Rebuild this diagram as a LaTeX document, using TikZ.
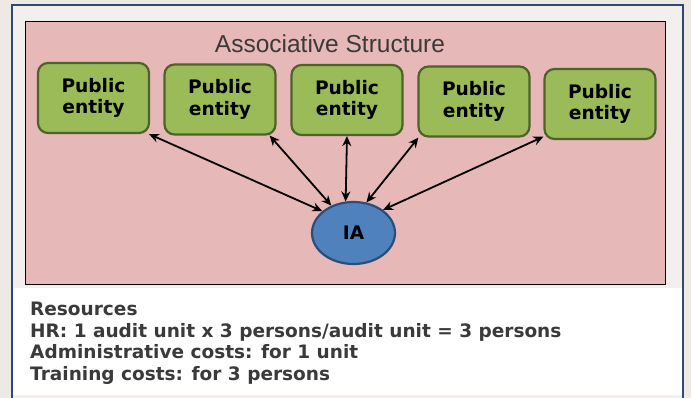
\documentclass[tikz,border=0pt]{standalone}
\usepackage{fontspec}
\setmainfont{DejaVu Sans}
\newfontfamily\titlefont{Liberation Sans}
\usetikzlibrary{arrows.meta,shapes.geometric}

\definecolor{pagegray}{HTML}{EDEAE6}
\definecolor{panelgray}{HTML}{F2EFEC}
\definecolor{frameblue}{HTML}{2E4A74}
\definecolor{structpink}{HTML}{E6B8B7}
\definecolor{entitygreen}{HTML}{9BBB59}
\definecolor{entityline}{HTML}{4F6228}
\definecolor{iablue}{HTML}{4F81BD}
\definecolor{iaborder}{HTML}{2C4D75}
\definecolor{textgray}{HTML}{3A3A3A}

\begin{document}
\begin{tikzpicture}[x=1pt,y=-1pt,>={Stealth[length=10pt,width=9pt]},
  entity/.style={rectangle,rounded corners=10pt,draw=entityline,fill=entitygreen,
    line width=2.2pt,minimum width=111pt,minimum height=70pt,align=center,
    font=\bfseries\fontsize{18.6}{21.5}\selectfont},
  ia node/.style={ellipse,draw=iaborder,fill=iablue,line width=2.2pt,
    minimum width=83pt,minimum height=62pt,font=\bfseries\fontsize{18.6}{21.5}\selectfont},
  link/.style={<->,line width=1.8pt}]

  % page and frame
  \useasboundingbox (0,0) rectangle (691,398);
  \fill[pagegray] (0,0) rectangle (691,398);
  \fill[panelgray] (12,5) rectangle (683,398);
  \fill[white] (13,288) rectangle (682,395);
  \draw[frameblue,line width=2pt] (12,398) -- (12,5) -- (683,5) -- (683,398);
  \draw[fill=structpink,line width=0.9pt] (25,21) rectangle (665,284);

  \node[anchor=base,text=textgray,font=\titlefont\fontsize{24.5}{24.5}\selectfont] (title)
    at (330,52.7) {Associative Structure};

  \node[entity] (pe1) at (93.5,98) {Public\\entity};
  \node[entity] (pe2) at (220,99.5) {Public\\entity};
  \node[entity] (pe3) at (347,100) {Public\\entity};
  \node[entity] (pe4) at (474,101.5) {Public\\entity};
  \node[entity] (pe5) at (600,104) {Public\\entity};

  \node[ia node] (ia) at (353.5,233) {IA};

  \draw[link] (pe1.-33) -- (ia.145);
  \draw[link] (pe2.-36) -- (ia.129);
  \draw[link] (pe3.south) -- (ia.104);
  \draw[link] (pe4.-147) -- (ia.67);
  \draw[link] (pe5.-150) -- (ia.38);

  % resources
  \node[anchor=north west,inner sep=0pt,align=left,text=textgray,
    font=\bfseries\fontsize{18.5}{21.5}\selectfont] (res) at (30,302.3)
    {Resources\\
     HR: 1 audit unit x 3 persons/audit unit = 3 persons\\
     Administrative costs: for 1 unit\\
     Training costs: for 3 persons};
\end{tikzpicture}
\end{document}
